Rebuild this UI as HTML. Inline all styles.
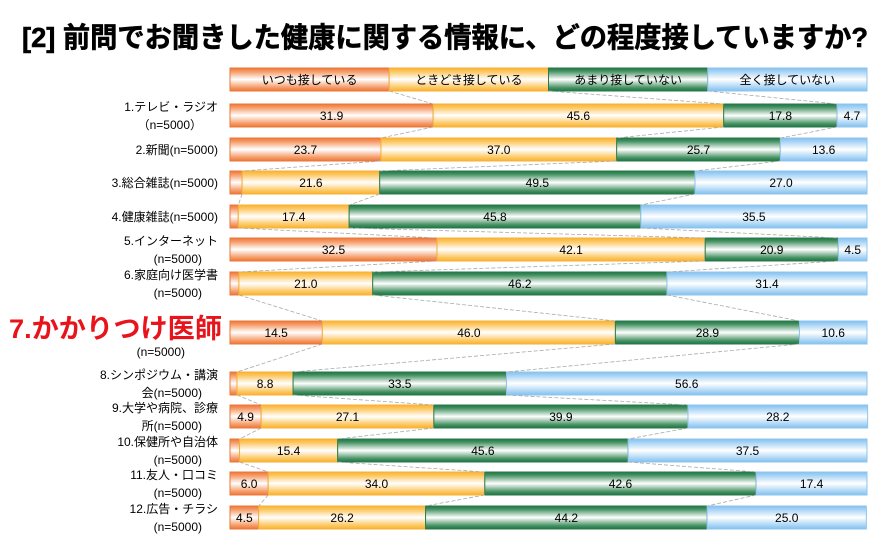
<!DOCTYPE html>
<html><head><meta charset="utf-8">
<style>
body{margin:0;background:#fff;width:880px;height:540px;overflow:hidden;font-family:"Liberation Sans","Noto Sans CJK JP",sans-serif;}
svg text{font-family:"Liberation Sans","Noto Sans CJK JP",sans-serif;}
</style></head>
<body>
<svg id="chart" width="880" height="540">
<defs>
<linearGradient id="g0" x1="0" y1="0" x2="0" y2="1"><stop offset="0" stop-color="#ef7632"/><stop offset="0.15" stop-color="#f59a66"/><stop offset="0.5" stop-color="#ffffff"/><stop offset="0.85" stop-color="#f59a66"/><stop offset="1" stop-color="#ef7632"/></linearGradient>
<linearGradient id="g1" x1="0" y1="0" x2="0" y2="1"><stop offset="0" stop-color="#fbb22c"/><stop offset="0.15" stop-color="#fcc760"/><stop offset="0.5" stop-color="#ffffff"/><stop offset="0.85" stop-color="#fcc760"/><stop offset="1" stop-color="#fbb22c"/></linearGradient>
<linearGradient id="g2" x1="0" y1="0" x2="0" y2="1"><stop offset="0" stop-color="#1a7443"/><stop offset="0.15" stop-color="#4a9466"/><stop offset="0.5" stop-color="#ffffff"/><stop offset="0.85" stop-color="#4a9466"/><stop offset="1" stop-color="#1a7443"/></linearGradient>
<linearGradient id="g3" x1="0" y1="0" x2="0" y2="1"><stop offset="0" stop-color="#82c0f0"/><stop offset="0.15" stop-color="#a6d3f5"/><stop offset="0.5" stop-color="#ffffff"/><stop offset="0.85" stop-color="#a6d3f5"/><stop offset="1" stop-color="#82c0f0"/></linearGradient>
</defs>
<text x="22" y="47" font-size="28" font-weight="bold" textLength="846" lengthAdjust="spacingAndGlyphs" stroke="#000" stroke-width="0.6">[2] 前問でお聞きした健康に関する情報に、どの程度接していますか?</text>
</svg>
<script>
const seriesNames=["いつも接している","ときどき接している","あまり接していない","全く接していない"];
const categories=["1.テレビ・ラジオ|（n=5000）","2.新聞(n=5000)","3.総合雑誌(n=5000)","4.健康雑誌(n=5000)","5.インターネット|(n=5000)","6.家庭向け医学書|(n=5000)","7.かかりつけ医師","8.シンポジウム・講演|会(n=5000)","9.大学や病院、診療|所(n=5000)","10.保健所や自治体|(n=5000)","11.友人・口コミ|(n=5000)","12.広告・チラシ|(n=5000)"];
const always=[31.9,23.7,1.9,1.3,32.5,1.4,14.5,1.1,4.9,1.5,6.0,4.5];
const sometimes=[45.6,37.0,21.6,17.4,42.1,21.0,46.0,8.8,27.1,15.4,34.0,26.2];
const rarely=[17.8,25.7,49.5,45.8,20.9,46.2,28.9,33.5,39.9,45.6,42.6,44.2];
const never=[4.7,13.6,27.0,35.5,4.5,31.4,10.6,56.6,28.2,37.5,17.4,25.0];
const showMin=3;
const NS="http://www.w3.org/2000/svg";
const svg=document.getElementById('chart');
const X0=230,W=637,BH=23;
const rowY=[104,138,171,205,238,272,321,372,405,439,472,506];
const xs=v=>X0+v/100*W;
function mk(t,a){const e=document.createElementNS(NS,t);for(const k in a)e.setAttribute(k,a[k]);svg.appendChild(e);return e;}
const strokes=["#e8773a","#f5b03a","#2a7a4a","#8ec4ee"];
for(let i=0;i<4;i++){
  const r=mk('rect',{x:X0+i*W/4,y:68,width:W/4,height:BH,fill:'url(#g'+i+')',stroke:strokes[i],'stroke-width':1});
  
  
  const t=mk('text',{x:X0+i*W/4+W/8,y:84,'font-size':12,'text-anchor':'middle'});
  t.textContent=seriesNames[i];
  
  
}
const series=[always,sometimes,rarely,never];
let prevB=[X0,X0+W/4,X0+W/2,X0+3*W/4,X0+W],prevY=68;
for(let r=0;r<categories.length;r++){
  const y=rowY[r];let c=0;const b=[X0];
  for(let s=0;s<4;s++){
    const v=series[s][r];const x1=xs(c),x2=xs(c+v);c+=v;b.push(x2);
    const rc=mk('rect',{x:x1,y:y,width:Math.max(0,x2-x1),height:BH,fill:'url(#g'+s+')',stroke:strokes[s],'stroke-width':1});
    
    
    if(v>=showMin){const t=mk('text',{x:(x1+x2)/2,y:y+16,'font-size':12,'text-anchor':'middle'});t.textContent=v.toFixed(1);
      
      }
  }
  for(let k=1;k<4;k++){const l=mk('line',{x1:prevB[k],y1:prevY+BH,x2:b[k],y2:y,stroke:'#aaa','stroke-width':0.8,'stroke-dasharray':'4,2'});
    
    }
  prevB=b;prevY=y;
  const parts=categories[r].split('|');
  if(r===6){
    const t=mk('text',{x:222,y:y+17,'font-size':27,'font-weight':'bold',fill:'#e8141c','text-anchor':'end',textLength:213,lengthAdjust:'spacingAndGlyphs'});t.textContent=parts[0];
    
    
    const t2=mk('text',{x:185,y:y+35,'font-size':12,'text-anchor':'end'});t2.textContent='(n=5000)';
    
    
  }else if(parts.length===1){
    const t=mk('text',{x:218,y:y+16,'font-size':12,'text-anchor':'end'});t.textContent=parts[0];
    
    
  }else{
    const t=mk('text',{x:218,y:y+7,'font-size':12,'text-anchor':'end'});t.textContent=parts[0];
    
    
    const t2=mk('text',{x:202,y:y+25,'font-size':12,'text-anchor':'end'});t2.textContent=parts[1];
    
    
  }
}
</script>
</body></html>
